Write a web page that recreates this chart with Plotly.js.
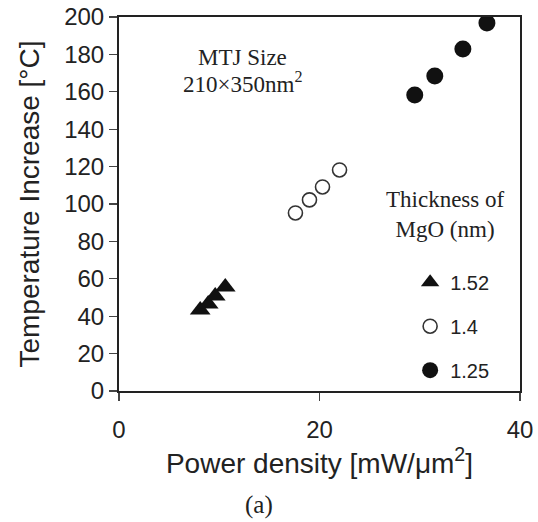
<!DOCTYPE html>
<html>
<head>
<meta charset="utf-8">
<script src="https://cdn.plot.ly/plotly-3.0.1.min.js"></script>
<style>html,body{margin:0;padding:0;background:#fff;}</style>
</head>
<body>
<div id="chart" style="width:538px;height:522px;"></div>
<script>
// Data
const seriesNames = ["1.52", "1.4", "1.25"];
const power152 = [8.1, 8.9, 9.6, 10.6];
const temp152  = [43.3, 46.5, 50.8, 55.6];
const power14  = [17.6, 19.0, 20.3, 22.0];
const temp14   = [95.2, 102.2, 109.1, 118.2];
const power125 = [29.5, 31.5, 34.3, 36.7];
const temp125  = [158.3, 168.4, 182.9, 196.8];
const xTicks = [0, 20, 40];
const yTicks = [0, 20, 40, 60, 80, 100, 120, 140, 160, 180, 200];

const ink = "#222";
const traces = [
  {x: power152, y: temp152, name: seriesNames[0], type: "scatter", mode: "markers", legendgroup: "a",
   marker: {symbol: "triangle-up", size: 18, color: "#111"}},
  {x: power14, y: temp14, name: seriesNames[1], type: "scatter", mode: "markers", legendgroup: "b",
   marker: {symbol: "circle", size: 14, color: "#fff", line: {color: "#333", width: 1.6}}},
  {x: power125, y: temp125, name: seriesNames[2], type: "scatter", mode: "markers", legendgroup: "c",
   marker: {symbol: "circle", size: 17, color: "#111"}}
];

const serif = "Liberation Serif, Times New Roman, serif";
const sans = "Liberation Sans, Arial, sans-serif";

const layout = {
  width: 538, height: 522,
  margin: {l: 119, r: 18, t: 17, b: 131},
  paper_bgcolor: "#fff", plot_bgcolor: "#fff",
  font: {family: sans, color: ink},
  showlegend: true,
  legend: {x: 0.726, xanchor: "left", y: 0.343, yanchor: "top",
    font: {family: sans, size: 20, color: ink}, tracegroupgap: 15,
    traceorder: "grouped", itemsizing: "trace", bgcolor: "rgba(0,0,0,0)"},
  xaxis: {range: [0, 40], tickvals: xTicks, ticks: "outside", ticklen: 8, tickwidth: 1.2, tickcolor: "#444",
    showline: true, linecolor: "#222", linewidth: 2, mirror: true, showgrid: false, zeroline: false,
    tickfont: {size: 24, family: sans, color: ink}, ticklabelstandoff: 8,
    title: {text: "Power density [mW/μm<sup>2</sup>]", font: {size: 28, family: sans, color: ink}, standoff: 10}},
  xaxis2: {range: [0, 40], tickvals: xTicks, ticks: "inside", ticklen: 8, tickwidth: 1.2, tickcolor: "#444",
    overlaying: "x", anchor: "y", showticklabels: false, showgrid: false, zeroline: false, showline: false},
  yaxis: {range: [0, 200], tickvals: yTicks, ticks: "outside", ticklen: 8, tickwidth: 1.2, tickcolor: "#444",
    showline: true, linecolor: "#222", linewidth: 2, mirror: true, showgrid: false, zeroline: false,
    tickfont: {size: 24, family: sans, color: ink},
    title: {text: "Temperature Increase [°C]", font: {size: 28, family: sans, color: ink}, standoff: 16}},
  yaxis2: {range: [0, 200], tickvals: yTicks, ticks: "inside", ticklen: 8, tickwidth: 1.2, tickcolor: "#444",
    overlaying: "y", anchor: "x", side: "left", showticklabels: false, showgrid: false, zeroline: false, showline: false},
  annotations: [
    {text: "MTJ Size", xref: "paper", yref: "paper", x: 0.309, y: 0.893, xanchor: "center", yanchor: "middle",
     showarrow: false, font: {family: serif, size: 23, color: ink}},
    {text: "210×350nm<sup>2</sup>", xref: "paper", yref: "paper", x: 0.309, y: 0.826, xanchor: "center", yanchor: "middle",
     showarrow: false, font: {family: serif, size: 23, color: ink}},
    {text: "Thickness of<br>MgO (nm)", xref: "paper", yref: "paper", x: 0.813, y: 0.473, xanchor: "center", yanchor: "middle",
     showarrow: false, font: {family: serif, size: 23, color: ink}},
    {text: "(a)", xref: "paper", yref: "paper", x: 0.349, y: -0.305, xanchor: "center", yanchor: "middle",
     showarrow: false, font: {family: serif, size: 25, color: ink}}
  ]
};

Plotly.newPlot("chart", traces, layout, {staticPlot: true, displayModeBar: false});
</script>
</body>
</html>
